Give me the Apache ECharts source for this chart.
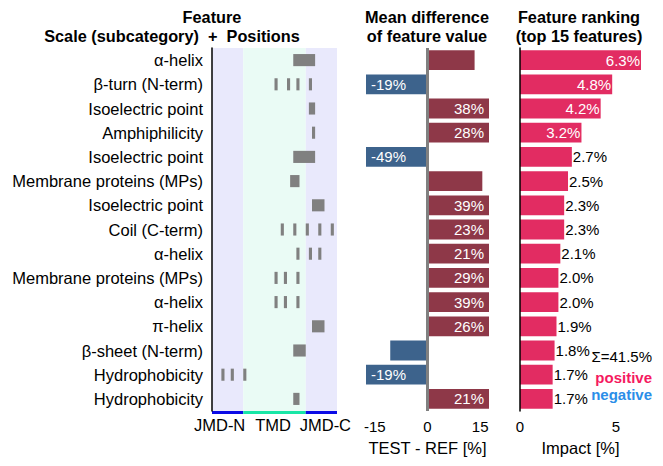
<!DOCTYPE html>
<html lang="en">
<head>
<meta charset="UTF-8">
<title>Feature map</title>
<style>
  html, body { margin: 0; padding: 0; background: #fff; }
  #chart { width: 663px; height: 466px; }
</style>
</head>
<body>
<div id="chart"></div>
<script src="https://cdn.jsdelivr.net/npm/echarts@6/dist/echarts.min.js"></script>
<script>
var scales = ['α-helix', 'β-turn (N-term)', 'Isoelectric point', 'Amphiphilicity', 'Isoelectric point',
  'Membrane proteins (MPs)', 'Isoelectric point', 'Coil (C-term)', 'α-helix', 'Membrane proteins (MPs)',
  'α-helix', 'π-helix', 'β-sheet (N-term)', 'Hydrophobicity', 'Hydrophobicity'];
// residue positions of each feature (1-based, JMD-N 1-10, TMD 11-30, JMD-C 31-40)
var positions = [
  [27, 28, 29, 30, 31, 32, 33],
  [21, 25, 28, 32],
  [32, 33],
  [33],
  [27, 28, 29, 30, 31, 32, 33],
  [26, 27, 28],
  [33, 34, 35, 36],
  [23, 27, 31, 35, 39],
  [28, 32, 35],
  [21, 24, 28],
  [21, 24, 28],
  [33, 34, 35, 36],
  [27, 28, 29, 30],
  [4, 7, 11],
  [27, 28]
];
var meanDiff = [13.4, -19, 38, 28, -49, 15.6, 39, 23, 21, 29, 39, 26, -10.6, -19, 21];
var impact = [6.3, 4.8, 4.2, 3.2, 2.7, 2.5, 2.3, 2.3, 2.1, 2.0, 2.0, 1.9, 1.8, 1.7, 1.7];
var regionNames = ['JMD-N', 'TMD', 'JMD-C'];
var regionLengths = [10, 20, 10];
var diffTicks = [-15, 0, 15];
var impactTicks = [0, 5];

var FONT = '"Liberation Sans", Arial, sans-serif';
var DIFF_LIM = 17.5;
var IMPACT_MAX = 6.3;
var bandFill = ['#e9e9fc', '#eafbf5', '#e9e9fc'];
var stripFill = ['#0a0ae6', '#18e6a6', '#0a0ae6'];
var labelShift = [[0, 16, 0, 0], [0, 3, 0, 0], [0, 0, 0, 8]];

// region start / end on the residue axis
var regions = [];
var acc = 0;
regionLengths.forEach(function (len, i) {
  regions.push([acc, acc + len, i, 0]);
  acc += len;
});
var seqLen = acc;
var regionCenters = regions.map(function (r) { return (r[0] + r[1]) / 2; });

// join neighbouring residues into one block
var segments = [];
positions.forEach(function (list, row) {
  var start = list[0], prev = list[0];
  for (var k = 1; k <= list.length; k++) {
    if (k < list.length && list[k] === prev + 1) { prev = list[k]; continue; }
    segments.push([row, start - 1, prev]);
    start = prev = list[k];
  }
});

var total = impact.reduce(function (a, b) { return a + b; }, 0);

function renderRegion(params, api) {
  var cs = params.coordSys;
  var x0 = api.coord([api.value(0), 0])[0];
  var x1 = api.coord([api.value(1), 0])[0];
  var i = api.value(2);
  return {
    type: 'group',
    children: [
      { type: 'rect', shape: { x: x0, y: cs.y, width: x1 - x0, height: cs.height }, style: { fill: bandFill[i] } },
      { type: 'rect', shape: { x: x0, y: cs.y + cs.height, width: x1 - x0, height: 3 }, style: { fill: stripFill[i] } }
    ]
  };
}

function renderSegment(params, api) {
  var row = api.value(0);
  var p0 = api.coord([api.value(1), row]);
  var p1 = api.coord([api.value(2), row]);
  var h = api.size([0, 1])[1] * 0.5;
  return {
    type: 'rect',
    shape: { x: p0[0], y: p0[1] - h / 2, width: p1[0] - p0[0], height: h },
    style: { fill: '#808080' }
  };
}

var diffData = meanDiff.map(function (v) {
  var clipped = Math.abs(v) > DIFF_LIM;
  return {
    value: Math.max(-DIFF_LIM, Math.min(DIFF_LIM, v)),
    raw: v,
    itemStyle: { color: v >= 0 ? '#8e3848' : '#3d638c' },
    label: { show: clipped, position: v >= 0 ? 'insideRight' : 'insideLeft' }
  };
});

var impactData = impact.map(function (v) {
  var inside = v > 3;
  return {
    value: v,
    label: { position: inside ? 'insideRight' : 'right', color: inside ? '#fff' : '#000' }
  };
});

var chart = echarts.init(document.getElementById('chart'), null, { renderer: 'svg' });
var titleStyle = { fontFamily: FONT, fontSize: 16.3, fontWeight: 'bold', fill: '#000', textAlign: 'center', textVerticalAlign: 'middle' };
function txt(x, y, s, extra) {
  var style = Object.assign({}, titleStyle, { text: s }, extra || {});
  return { type: 'text', x: x, y: y, style: style, silent: true };
}

chart.setOption({
  animation: false,
  textStyle: { fontFamily: FONT },
  grid: [
    { left: 212, top: 48, width: 125, height: 363 },
    { left: 366, top: 48, width: 123, height: 363 },
    { left: 520, top: 48, width: 121, height: 363 }
  ],
  xAxis: [
    {
      gridIndex: 0, type: 'value', min: 0, max: seqLen,
      axisLine: { show: false }, axisTick: { show: false }, splitLine: { show: false },
      axisLabel: {
        customValues: regionCenters, margin: 5, color: '#000', fontSize: 16.5,
        formatter: function (v) {
          var i = regionCenters.indexOf(v);
          return '{r' + i + '|' + regionNames[i] + '}';
        },
        rich: {
          r0: { fontSize: 16.5, color: '#000', padding: labelShift[0] },
          r1: { fontSize: 16.5, color: '#000', padding: labelShift[1] },
          r2: { fontSize: 16.5, color: '#000', padding: labelShift[2] }
        }
      }
    },
    {
      gridIndex: 1, type: 'value', min: -DIFF_LIM, max: DIFF_LIM,
      axisLine: { lineStyle: { color: '#000', width: 1 } },
      axisTick: { customValues: diffTicks, length: 4, lineStyle: { color: '#000' } },
      axisLabel: { customValues: diffTicks, color: '#000', fontSize: 15, margin: 8 },
      splitLine: { show: false },
      name: 'TEST - REF [%]', nameLocation: 'middle', nameGap: 28,
      nameTextStyle: { fontSize: 16.5, color: '#000' }
    },
    {
      gridIndex: 2, type: 'value', min: 0, max: IMPACT_MAX,
      axisLine: { lineStyle: { color: '#000', width: 1 } },
      axisTick: { customValues: impactTicks, length: 4, lineStyle: { color: '#000' } },
      axisLabel: { customValues: impactTicks, color: '#000', fontSize: 15, margin: 8 },
      splitLine: { show: false },
      name: 'Impact [%]', nameLocation: 'middle', nameGap: 28,
      nameTextStyle: { fontSize: 16.5, color: '#000' }
    }
  ],
  yAxis: [
    {
      gridIndex: 0, type: 'category', data: scales, inverse: true, z: 10,
      axisLine: { lineStyle: { color: '#000', width: 1.5 } },
      axisTick: { alignWithLabel: true, length: 4, lineStyle: { color: '#000' } },
      axisLabel: { color: '#000', fontSize: 16.5, margin: 9 }
    },
    {
      gridIndex: 1, type: 'category', data: scales, inverse: true,
      axisLine: { show: false }, axisTick: { show: false }, axisLabel: { show: false }
    },
    {
      gridIndex: 2, type: 'category', data: scales, inverse: true, z: 10,
      axisLine: { lineStyle: { color: '#000', width: 1.5 } },
      axisTick: { show: false }, axisLabel: { show: false }
    }
  ],
  series: [
    {
      type: 'custom', xAxisIndex: 0, yAxisIndex: 0, z: 1, silent: true,
      renderItem: renderRegion, encode: { x: [0, 1], y: 3 }, data: regions
    },
    {
      type: 'custom', xAxisIndex: 0, yAxisIndex: 0, z: 2, silent: true,
      renderItem: renderSegment, encode: { x: [1, 2], y: 0 }, data: segments
    },
    {
      type: 'bar', xAxisIndex: 1, yAxisIndex: 1, barWidth: '82%', data: diffData,
      label: {
        color: '#fff', fontSize: 15, distance: 5,
        formatter: function (p) { return Math.round(p.data.raw) + '%'; }
      },
      markLine: {
        silent: true, symbol: ['none', 'none'], label: { show: false },
        lineStyle: { color: '#808080', width: 3, type: 'solid' },
        data: [{ xAxis: 0 }]
      }
    },
    {
      type: 'bar', xAxisIndex: 2, yAxisIndex: 2, barWidth: '82%', data: impactData,
      itemStyle: { color: '#e22c62' },
      label: {
        show: true, fontSize: 15, distance: 1,
        formatter: function (p) { return p.value.toFixed(1) + '%'; }
      }
    }
  ],
  graphic: [
    txt(212, 17, 'Feature'),
    txt(172, 35.5, 'Scale (subcategory)\u00a0 +\u00a0 Positions'),
    txt(427, 17, 'Mean difference'),
    txt(427, 35.5, 'of feature value'),
    txt(579, 17, 'Feature ranking'),
    txt(579, 35.5, '(top 15 features)'),
    txt(652, 356, 'Σ=' + total.toFixed(1) + '%', { fontWeight: 'normal', fontSize: 15, textAlign: 'right' }),
    txt(652, 377, 'positive', { fontSize: 15, textAlign: 'right', fill: '#f51a60' }),
    txt(652, 394, 'negative', { fontSize: 15, textAlign: 'right', fill: '#2b8ee8' })
  ]
});
</script>
</body>
</html>
